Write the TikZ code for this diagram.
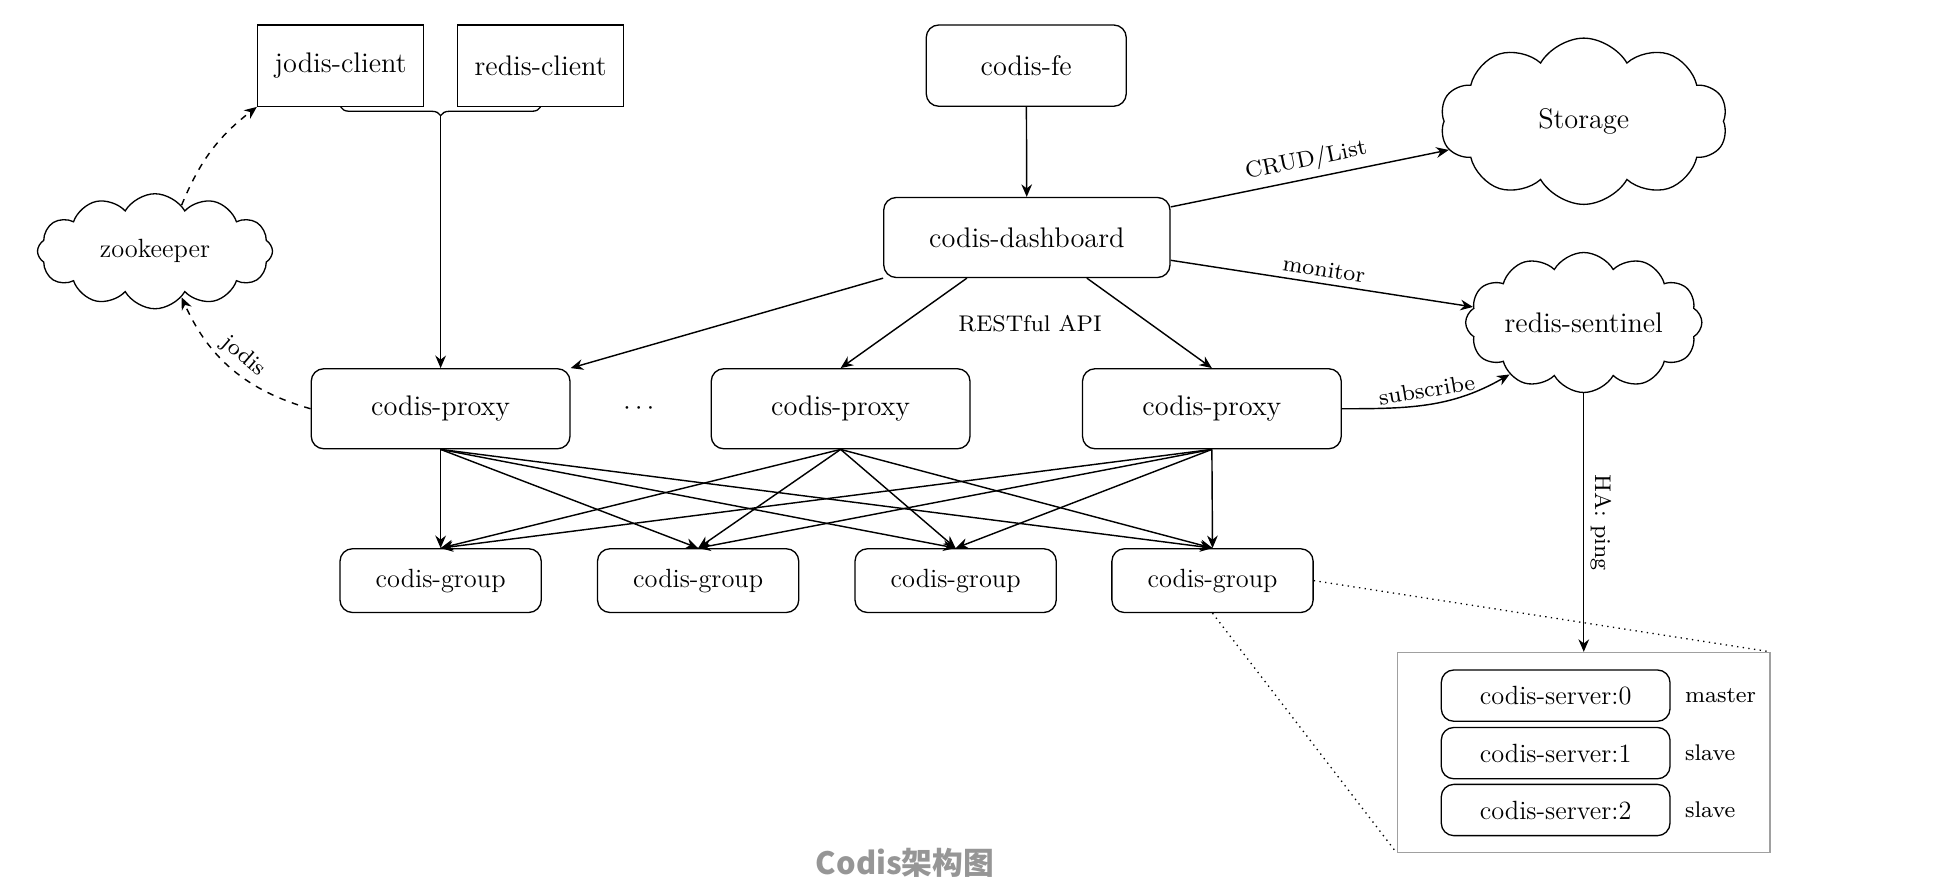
\documentclass[tikz,border=0pt]{standalone}
\usepackage{fontspec}
\newfontfamily\cjkfont{Noto Sans CJK SC}
\usetikzlibrary{shapes.symbols,decorations.pathreplacing,arrows.meta}

\begin{document}
\begin{tikzpicture}

	% Styles for boxes, clouds, arrows and small labels
	\tikzset{
		rounded box/.style={draw, line width=0.6pt, rounded corners=0.2cm, font=\fontsize{12.9}{15}\selectfont},
		plain box/.style={draw, line width=0.6pt, minimum width=2.66cm, minimum height=1.3cm, font=\fontsize{12.9}{15}\selectfont},
		proxy box/.style={rounded box, minimum width=4.14cm, minimum height=1.28cm},
		group box/.style={rounded box, minimum width=3.22cm, minimum height=1.02cm, font=\fontsize{12}{14}\selectfont},
		server box/.style={rounded box, minimum width=3.66cm, minimum height=0.82cm, font=\fontsize{12}{14}\selectfont},
		cloudy/.style={draw, line width=0.6pt, shape=cloud, cloud puff arc=120, inner sep=0pt, font=\fontsize{12.9}{15}\selectfont},
		link/.style={line width=0.65pt, -{Stealth[length=2mm,width=1.7mm]}},
		small label/.style={font=\footnotesize, scale=1.29, inner sep=2pt}
	}
	\definecolor{boxgray}{RGB}{160,160,160}
	\definecolor{captiongray}{RGB}{150,150,150}

	\useasboundingbox (0,0) rectangle (31.36,-14.18);

	% Clients
	\node[plain box] (jodis) at (5.45,-1.05) {jodis-client};
	\node[plain box] (rediscl) at (8.65,-1.05) {redis-client};
	\draw[line width=0.6pt, decorate, decoration={brace, mirror, amplitude=0.14cm}] (jodis.south) -- (rediscl.south);
	\coordinate (bracetip) at (7.05,-1.84);

	% Front end and dashboard
	\node[rounded box, minimum width=3.2cm, minimum height=1.3cm] (fe) at (16.42,-1.05) {codis-fe};
	\node[rounded box, minimum width=4.58cm, minimum height=1.28cm] (dash) at (16.43,-3.8) {codis-dashboard};

	% Clouds
	\node[cloudy, cloud puffs=10, aspect=1.6, minimum width=4.6cm, minimum height=2.66cm] (storage) at (25.34,-1.94) {Storage};
	\node[cloudy, cloud puffs=12, aspect=2.04, minimum width=3.76cm, minimum height=1.84cm, font=\fontsize{12}{14}\selectfont] (zk) at (2.48,-4.02) {zookeeper};
	\node[cloudy, cloud puffs=12, aspect=2.03, minimum width=3.78cm, minimum height=1.86cm] (sentinel) at (25.34,-5.16) {redis-sentinel};

	% Proxies
	\node[proxy box] (proxy1) at (7.05,-6.54) {codis-proxy};
	\node[font=\fontsize{12.9}{15}\selectfont] (dots) at (10.22,-6.54) {$\cdots$};
	\node[proxy box] (proxy2) at (13.45,-6.54) {codis-proxy};
	\node[proxy box] (proxy3) at (19.39,-6.54) {codis-proxy};

	% Groups
	\foreach \i/\x in {1/7.05, 2/11.17, 3/15.29, 4/19.40}
		\node[group box] (group\i) at (\x,-9.29) {codis-group};

	% Servers of one group
	\node[draw=boxgray, line width=0.6pt, minimum width=5.96cm, minimum height=3.2cm] (grp) at (25.34,-12.04) {};
	\foreach \i/\y/\role in {0/-11.13/master, 1/-12.05/slave, 2/-12.96/slave}{
		\node[server box] (server\i) at (24.89,\y) {codis-server:\i};
		\node[small label, anchor=west] (role\i) at (26.86,\y) {\role};
	}

	% Arrows
	\draw[link] (bracetip) -- (proxy1.north);
	\draw[link] (fe) -- (dash);
	\draw[link] (dash.south west) -- (proxy1.north east);
	\draw[link] ([xshift=-0.96cm]dash.south) -- (proxy2.north);
	\draw[link] ([xshift=0.96cm]dash.south) -- (proxy3.north);
	\node[small label] (rest) at (16.48,-5.18) {RESTful API};
	\draw[link] (dash.12) -- node[midway, above, sloped, small label] {CRUD/List} (storage.192);
	\draw[link] (dash.-9) -- node[midway, above, sloped, small label] {monitor} (sentinel.172);
	\draw[link] (proxy3.east) to[out=0, in=210] node[midway, above, sloped, small label] {subscribe} (sentinel.215);
	\draw[link] (sentinel.south) -- node[midway, above, sloped, small label] {HA: ping} (grp.north);

	% zookeeper links
	\draw[link, dashed] (zk.60) to[bend left=15] (jodis.south west);
	\draw[link, dashed] (proxy1.west) to[bend left=25] node[midway, above, sloped, small label] {jodis} (zk.-60);

	% Every proxy talks to every group
	\foreach \p in {1,2,3}
		\foreach \g in {1,...,4}
			\draw[link] (proxy\p.south) -- (group\g.north);

	% Zoom lines to the server box
	\draw[line width=0.6pt, dotted] (group4.east) -- (grp.north east);
	\draw[line width=0.6pt, dotted] (group4.south) -- (grp.south west);

	% Caption
	\node[font=\cjkfont\bfseries\fontsize{14}{17}\selectfont, text=captiongray] (caption) at (14.48,-13.8) {Codis架构图};

\end{tikzpicture}
\end{document}
